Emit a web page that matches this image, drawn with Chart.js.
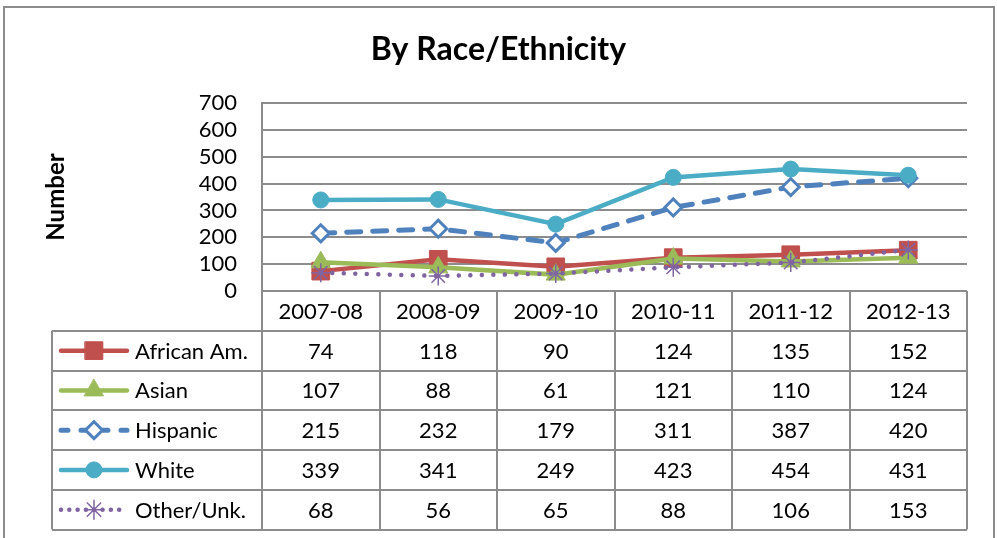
<!DOCTYPE html>
<html>
<head>
<meta charset="utf-8">
<script src="https://cdn.jsdelivr.net/npm/chart.js@4.4.0/dist/chart.umd.min.js"></script>
<style>
html,body{margin:0;padding:0;background:#fff;}
#wrap{width:997px;height:538px;position:relative;}
</style>
</head>
<body>
<div id="wrap"><canvas id="c" width="997" height="538"></canvas></div>
<script>
const categories = ['2007-08','2008-09','2009-10','2010-11','2011-12','2012-13'];
const africanAm = [74,118,90,124,135,152];
const asian     = [107,88,61,121,110,124];
const hispanic  = [215,232,179,311,387,420];
const white     = [339,341,249,423,454,431];
const otherUnk  = [68,56,65,88,106,153];
const seriesNames = ['African Am.','Asian','Hispanic','White','Other/Unk.'];
const yTicks = [0,100,200,300,400,500,600,700];
const chartTitle = 'By Race/Ethnicity';
const yTitle = 'Number';

const gridColor = '#8c8c8c';
const FONT = 'Lato';
const TEXT_SIZE = 22;

const framePlugin = {
  id: 'frame',
  beforeDraw(chart) {
    const ctx = chart.ctx;
    ctx.save();
    ctx.fillStyle = '#fff';
    ctx.fillRect(0, 0, chart.width, chart.height);
    ctx.strokeStyle = gridColor;
    ctx.lineWidth = 2;
    ctx.strokeRect(4, 7, 990, chart.height + 20);
    ctx.restore();
  }
};

const tablePlugin = {
  id: 'dataTable',
  afterDraw(chart) {
    const ctx = chart.ctx;
    const area = chart.chartArea;
    const xs = chart.scales.x;
    const n = categories.length;
    const colW = (area.right - area.left) / n;
    const top = area.bottom;
    const headH = 39.75, rowH = 39.75;
    const legendLeft = 52;
    const sets = chart.data.datasets;
    const rows = sets.length;
    const bottom = top + headH + rows * rowH;
    ctx.save();
    ctx.strokeStyle = gridColor;
    ctx.lineWidth = 2;
    ctx.setLineDash([]);
    ctx.beginPath();
    for (let r = 0; r <= rows; r++) {
      const y = Math.round(top + headH + r * rowH);
      ctx.moveTo(legendLeft, y); ctx.lineTo(area.right, y);
    }
    for (let i = 0; i <= n; i++) {
      const x = Math.round(area.left + i * colW);
      ctx.moveTo(x, top); ctx.lineTo(x, bottom);
    }
    ctx.moveTo(legendLeft, top + headH); ctx.lineTo(legendLeft, bottom);
    ctx.stroke();

    ctx.fillStyle = '#000';
    ctx.font = TEXT_SIZE + 'px ' + FONT;
    ctx.textAlign = 'center';
    ctx.textBaseline = 'middle';
    categories.forEach((c, i) => {
      ctx.fillText(c, xs.getPixelForValue(i), top + headH / 2 + 1);
    });
    sets.forEach((ds, r) => {
      const cy = top + headH + r * rowH + rowH / 2 + 1;
      ctx.fillStyle = '#000';
      ctx.textAlign = 'center';
      ds.data.forEach((v, i) => {
        ctx.fillText(String(v), xs.getPixelForValue(i), cy);
      });
      ctx.textAlign = 'left';
      ctx.fillText(ds.label, 135, cy);
      // legend key
      const ky = cy - 1;
      ctx.save();
      ctx.strokeStyle = ds.borderColor;
      ctx.lineWidth = ds.borderWidth;
      ctx.lineCap = ds.borderCapStyle || 'round';
      ctx.setLineDash(ds.legendDash || ds.borderDash || []);
      ctx.beginPath();
      ctx.moveTo(61, ky); ctx.lineTo(127, ky);
      ctx.stroke();
      ctx.setLineDash([]);
      ctx.fillStyle = ds.pointBackgroundColor;
      ctx.strokeStyle = ds.pointBorderColor;
      ctx.lineWidth = ds.pointBorderWidth;
      Chart.helpers.drawPoint(ctx, {
        pointStyle: ds.pointStyle,
        radius: ds.pointRadius,
        rotation: 0,
        borderWidth: ds.pointBorderWidth
      }, 94, ky);
      ctx.restore();
    });
    ctx.restore();
  }
};

const datasets = [
  {
    label: seriesNames[0], data: africanAm, order: 5,
    borderColor: '#C0504D', borderWidth: 4.5, borderCapStyle: 'round',
    pointStyle: 'rect', pointRadius: 12.5, pointBackgroundColor: '#C0504D',
    pointBorderColor: '#C0504D', pointBorderWidth: 1
  },
  {
    label: seriesNames[1], data: asian, order: 4,
    borderColor: '#9BBB59', borderWidth: 4.5, borderCapStyle: 'round',
    pointStyle: 'triangle', pointRadius: 11, pointBackgroundColor: '#9BBB59',
    pointBorderColor: '#9BBB59', pointBorderWidth: 1
  },
  {
    label: seriesNames[2], data: hispanic, order: 3,
    borderColor: '#4F81BD', borderWidth: 5, borderCapStyle: 'round',
    borderDash: [14, 12], legendDash: [7, 13],
    pointStyle: 'rectRot', pointRadius: 8.5, pointBackgroundColor: '#fff',
    pointBorderColor: '#4F81BD', pointBorderWidth: 3
  },
  {
    label: seriesNames[3], data: white, order: 2,
    borderColor: '#4BACC6', borderWidth: 4.5, borderCapStyle: 'round',
    pointStyle: 'circle', pointRadius: 8, pointBackgroundColor: '#4BACC6',
    pointBorderColor: '#4BACC6', pointBorderWidth: 1
  },
  {
    label: seriesNames[4], data: otherUnk, order: 1,
    borderColor: '#8064A2', borderWidth: 4.5, borderCapStyle: 'round',
    borderDash: [0.01, 11.5], legendDash: [0.01, 8.3],
    pointStyle: 'star', pointRadius: 9.5, pointBackgroundColor: '#8064A2',
    pointBorderColor: '#8064A2', pointBorderWidth: 1.5
  }
];

new Chart(document.getElementById('c'), {
  type: 'line',
  data: { labels: categories, datasets: datasets },
  plugins: [framePlugin, tablePlugin],
  options: {
    responsive: false,
    devicePixelRatio: 1,
    animation: false,
    layout: { padding: { left: 0, right: 0, top: 0, bottom: 247 } },
    plugins: {
      legend: { display: false },
      tooltip: { enabled: false },
      title: {
        display: true, text: chartTitle, color: '#000',
        font: { family: FONT, size: 32, weight: 'bold', lineHeight: 1.2 },
        padding: { top: 30.8, bottom: 33.8 }
      }
    },
    scales: {
      x: { type: 'category', display: false, offset: true },
      y: {
        min: 0, max: 700,
        afterBuildTicks: s => { s.ticks = yTicks.map(v => ({ value: v })); },
        afterFit: s => { s.width = 262; },
        ticks: { padding: 25, color: '#000', autoSkip: false, font: { family: FONT, size: TEXT_SIZE } },
        grid: { color: gridColor, lineWidth: 2, drawTicks: false },
        border: { color: gridColor, width: 2 },
        title: {
          display: true, text: yTitle, color: '#000',
          font: { family: FONT, size: 24, weight: 'bold', lineHeight: 1.2 },
          padding: { top: 42, bottom: 0 }
        }
      },
      ySpacer: {
        position: 'right', min: 0, max: 700,
        afterFit: s => { s.width = 30; },
        ticks: { display: false },
        grid: { display: false, drawTicks: false },
        border: { display: false }
      }
    }
  }
});
</script>
</body>
</html>
